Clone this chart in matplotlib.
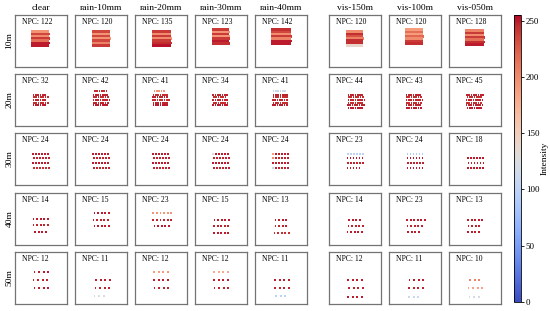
"""Point-cloud panels per weather condition and range, coloured by intensity."""

import numpy as np
import matplotlib
matplotlib.use('Agg')
import matplotlib.pyplot as plt
from matplotlib.colors import Normalize
from matplotlib.cm import ScalarMappable

plt.rcParams['font.family'] = ['Liberation Serif', 'DejaVu Serif']

# ─── data ────────────────────────────────────────────────────────────────────
CONDITIONS = ['clear', 'rain-10mm', 'rain-20mm', 'rain-30mm', 'rain-40mm',
              'vis-150m', 'vis-100m', 'vis-050m']
RANGES = ['10m', '20m', '30m', '40m', '50m']

NPC = [
    [122, 120, 135, 123, 142, 120, 120, 128],
    [32, 42, 41, 34, 41, 44, 43, 45],
    [24, 24, 24, 24, 24, 23, 24, 18],
    [14, 15, 23, 15, 13, 14, 23, 13],
    [12, 11, 12, 12, 11, 12, 11, 10],
]

# point spacing along a scan line for each range (panel units)
SCAN_DX = [0.95, 2.3, 3.0, 3.6, 4.6]

# scan-line segments per panel: (line height, start x, n points, intensity)
SEG_10M = [
    [(16.5, 17.5, 17, 195), (18.8, 17.5, 18, 235), (21.1, 17.5, 17, 200), (23.4, 17.5, 18, 240),
     (25.7, 17.5, 17, 215), (28.0, 17.5, 18, 250), (30.3, 17.5, 17, 250)],
    [(16.5, 18.3, 17, 235), (18.8, 18.3, 17, 195), (21.1, 18.3, 17, 235), (23.4, 18.3, 18, 195),
     (25.7, 18.3, 17, 235), (28.0, 18.3, 17, 205), (30.3, 18.3, 17, 240)],
    [(16.5, 18.0, 19, 240), (18.8, 18.0, 19, 200), (21.1, 18.0, 19, 240), (23.4, 18.0, 20, 200),
     (25.7, 18.0, 19, 240), (28.0, 18.0, 20, 245), (30.3, 18.0, 19, 252)],
    [(14.5, 17.8, 17, 240), (16.8, 17.8, 18, 195), (19.1, 17.8, 17, 240), (21.4, 17.8, 18, 195),
     (23.7, 17.8, 18, 240), (26.0, 17.8, 17, 250), (28.3, 17.8, 18, 245)],
    [(14.5, 17.0, 20, 245), (16.8, 17.0, 20, 235), (19.1, 17.0, 20, 200), (21.4, 17.0, 21, 240),
     (23.7, 17.0, 20, 205), (26.0, 17.0, 21, 250), (28.3, 17.0, 20, 250)],
    [(16.5, 18.0, 17, 200), (18.8, 18.0, 17, 245), (21.1, 18.0, 17, 230), (23.4, 18.0, 18, 205),
     (25.7, 18.0, 17, 245), (28.0, 18.0, 17, 245), (30.3, 18.0, 17, 140)],
    [(14.5, 17.5, 17, 190), (16.8, 17.5, 17, 215), (19.1, 17.5, 17, 190), (21.4, 17.5, 18, 220),
     (23.7, 17.5, 17, 200), (26.0, 17.5, 17, 240), (28.3, 17.5, 17, 245)],
    [(15.5, 17.5, 18, 205), (17.8, 17.5, 18, 240), (20.1, 17.5, 18, 200), (22.4, 17.5, 19, 240),
     (24.7, 17.5, 18, 215), (27.0, 17.5, 19, 245), (29.3, 17.5, 18, 250)],
]

SEG_20M = [
    [(20.7, 18.5, 6, 248), (23.3, 19.0, 7, 245), (26.0, 18.5, 6, 248), (28.7, 19.0, 7, 245),
     (31.3, 18.5, 6, 250)],
    [(16.7, 20.0, 6, 245), (20.7, 18.5, 7, 248), (23.3, 19.0, 7, 245), (26.0, 18.5, 8, 248),
     (28.7, 19.0, 7, 248), (31.3, 18.5, 7, 250)],
    [(16.7, 19.5, 5, 195), (20.7, 18.5, 7, 245), (23.3, 18.0, 7, 248), (26.0, 18.0, 8, 245),
     (28.7, 18.5, 7, 248), (31.3, 18.5, 7, 250)],
    [(20.7, 18.3, 7, 248), (23.3, 19.0, 6, 245), (26.0, 18.3, 7, 248), (28.7, 18.8, 7, 245),
     (31.3, 18.3, 7, 250)],
    [(16.7, 18.5, 6, 110), (20.7, 18.5, 7, 248), (23.3, 18.5, 7, 245), (26.0, 18.0, 7, 248),
     (28.7, 18.5, 7, 245), (31.3, 18.0, 7, 250)],
    [(20.7, 19.5, 7, 248), (23.3, 20.0, 7, 245), (26.0, 19.5, 8, 248), (28.7, 19.5, 7, 245),
     (31.3, 19.0, 8, 248), (34.0, 19.5, 7, 250)],
    [(20.7, 17.5, 7, 248), (23.3, 18.0, 7, 245), (26.0, 17.5, 8, 248), (28.7, 18.0, 7, 245),
     (31.3, 17.5, 7, 248), (34.0, 18.0, 7, 250)],
    [(20.7, 18.0, 8, 248), (23.3, 18.5, 7, 245), (26.0, 17.5, 8, 248), (28.7, 18.0, 7, 245),
     (31.3, 17.5, 8, 248), (34.0, 18.5, 7, 250)],
]

SEG_30M = [
    [(20.7, 18.3, 6, 250), (25.3, 19.0, 6, 248), (30.3, 18.3, 6, 250), (35.3, 19.3, 6, 245)],
    [(20.7, 18.3, 6, 250), (25.3, 19.0, 6, 248), (30.3, 18.3, 6, 250), (35.3, 19.3, 6, 248)],
    [(20.7, 18.3, 6, 250), (25.3, 19.0, 6, 248), (30.3, 18.3, 6, 250), (35.3, 19.3, 6, 248)],
    [(20.7, 18.3, 1, 120), (20.7, 21.3, 5, 250), (25.3, 19.0, 6, 248), (30.3, 18.3, 6, 250),
     (35.3, 19.3, 6, 248)],
    [(20.7, 18.3, 1, 190), (20.7, 21.3, 5, 250), (25.3, 18.3, 1, 200), (25.3, 21.3, 5, 248),
     (30.3, 18.3, 6, 250), (35.3, 18.3, 1, 110), (35.3, 21.3, 5, 248)],
    [(20.7, 19.0, 6, 100), (25.3, 18.5, 6, 250), (30.3, 19.0, 6, 248), (35.3, 18.5, 5, 250)],
    [(20.7, 18.5, 6, 90), (25.3, 18.5, 6, 250), (30.3, 19.0, 6, 248), (35.3, 18.5, 6, 250)],
    [(25.3, 19.0, 6, 250), (30.3, 19.5, 6, 248), (35.3, 19.0, 6, 250)],
]

SEG_40M = [
    [(26.0, 18.5, 5, 250), (32.4, 18.5, 5, 248), (39.4, 20.0, 4, 250)],
    [(20.0, 19.5, 5, 250), (26.7, 18.5, 5, 248), (33.3, 19.5, 5, 250)],
    [(20.0, 18.3, 6, 195), (26.7, 18.3, 6, 248), (33.3, 19.5, 5, 250)],
    [(26.7, 19.5, 5, 250), (33.3, 19.0, 5, 248), (40.0, 19.0, 5, 250)],
    [(26.7, 20.5, 4, 250), (33.3, 20.5, 4, 248), (40.0, 19.5, 5, 245)],
    [(26.7, 20.0, 4, 250), (33.0, 19.5, 5, 248), (39.3, 18.5, 5, 250)],
    [(26.7, 18.0, 6, 250), (33.0, 18.5, 5, 248), (39.3, 19.0, 4, 250)],
    [(26.7, 19.0, 5, 250), (33.0, 19.5, 4, 248), (39.3, 19.0, 4, 250)],
]

SEG_50M = [
    [(20.4, 19.5, 4, 250), (28.4, 18.5, 4, 248), (36.0, 19.5, 4, 250)],
    [(28.4, 21.0, 4, 250), (36.0, 20.5, 4, 248), (43.7, 19.5, 3, 125)],
    [(20.4, 19.0, 4, 190), (28.4, 19.0, 4, 250), (36.0, 19.5, 4, 248)],
    [(20.4, 19.0, 4, 180), (28.4, 19.0, 4, 250), (36.0, 19.5, 4, 248)],
    [(28.4, 20.0, 4, 250), (36.0, 20.0, 4, 248), (44.0, 21.0, 3, 100)],
    [(28.3, 19.0, 4, 250), (36.0, 20.0, 4, 248), (44.6, 19.0, 4, 250)],
    [(28.3, 20.5, 4, 250), (36.0, 20.0, 4, 248), (44.6, 20.0, 3, 110)],
    [(28.3, 21.0, 3, 205), (36.0, 19.5, 4, 185), (44.6, 20.5, 3, 120)],
]

SEGMENTS = [SEG_10M, SEG_20M, SEG_30M, SEG_40M, SEG_50M]
MARKER_S = [3.0, 1.6, 1.8, 1.8, 1.8]

# ─── layout (pixels in a 550x311 canvas) ─────────────────────────────────────
W, H = 550, 311
COL_X = [15, 75, 135, 195, 255, 329, 389, 449]
ROW_Y = [15, 74, 133, 193, 252]
PANEL = 52


def main() -> None:
    fig = plt.figure(figsize=(W / 100, H / 100), dpi=100)
    cmap = plt.get_cmap('coolwarm')
    norm = Normalize(vmin=0, vmax=255)

    for i_r, (rname, segs) in enumerate(zip(RANGES, SEGMENTS)):
        for i_c, cname in enumerate(CONDITIONS):
            ax = fig.add_axes([COL_X[i_c] / W, 1 - (ROW_Y[i_r] + PANEL) / H,
                               PANEL / W, PANEL / H])
            xs, ys, cs = [], [], []
            for (y, x0, n, inten) in segs[i_c]:
                xs.extend(x0 + SCAN_DX[i_r] * np.arange(n))
                ys.extend([y] * n)
                cs.extend([inten] * n)
            ax.scatter(xs, ys, c=cs, cmap=cmap, norm=norm, s=MARKER_S[i_r],
                       marker='s', linewidths=0)
            ax.set_xlim(0, PANEL)
            ax.set_ylim(PANEL, 0)
            ax.set_xticks([])
            ax.set_yticks([])
            for sp in ax.spines.values():
                sp.set_edgecolor('0.45')
                sp.set_linewidth(0.9)
            ax.text(0.14, 0.95, f'NPC: {NPC[i_r][i_c]}', transform=ax.transAxes,
                    ha='left', va='top', fontsize=5.5)
            if i_r == 0:
                fig.text((COL_X[i_c] + PANEL / 2) / W, 1 - 8.5 / H, cname,
                         ha='center', va='center', fontsize=6.8)
        fig.text(9.5 / W, 1 - (ROW_Y[i_r] + PANEL / 2) / H, rname,
                 rotation=90, ha='center', va='center', fontsize=6.8)

    cax = fig.add_axes([514 / W, 1 - 302 / H, 7 / W, 287 / H])
    cb = fig.colorbar(ScalarMappable(norm=norm, cmap=cmap), cax=cax)
    cb.set_ticks([0, 50, 100, 150, 200, 250])
    cb.ax.tick_params(labelsize=6.5, length=2, width=0.6, pad=1.5)
    cb.outline.set_linewidth(0.6)
    cb.set_label('Intensity', fontsize=6.8, labelpad=1)

    fig.savefig('out.png', dpi=100)
    plt.close(fig)


if __name__ == '__main__':
    main()
